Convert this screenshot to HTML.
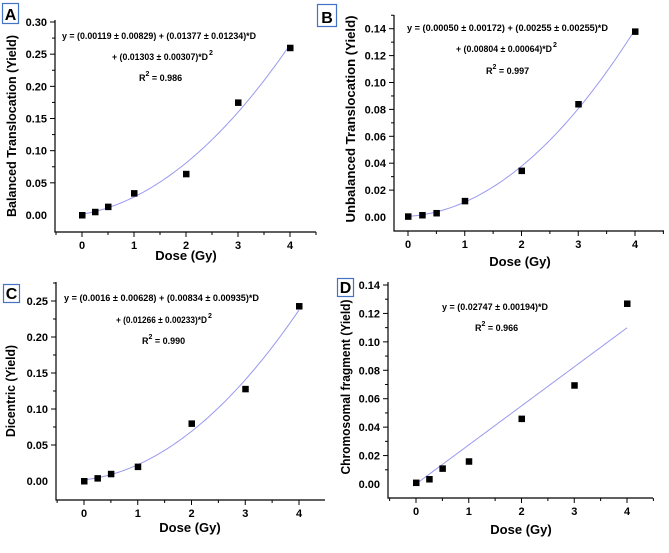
<!DOCTYPE html>
<html><head><meta charset="utf-8"><style>
body{margin:0;background:#fff;width:669px;height:548px;overflow:hidden}
svg{font-family:"Liberation Sans",Arial,sans-serif}
</style></head><body>
<svg id="fig" width="669" height="548"></svg>
<script>
const doses = [0, 0.25, 0.5, 1, 2, 3, 4];
const balancedYield = [0, 0.005, 0.013, 0.034, 0.064, 0.175, 0.26];
const unbalancedYield = [0.0005, 0.0015, 0.003, 0.012, 0.0345, 0.084, 0.138];
const dicentricYield = [0, 0.004, 0.01, 0.02, 0.08, 0.128, 0.243];
const fragmentYield = [0.001, 0.0035, 0.011, 0.016, 0.046, 0.0695, 0.127];
const fitA = [0.00119, 0.01377, 0.01303];
const fitB = [0.0005, 0.00255, 0.00804];
const fitC = [0.0016, 0.00834, 0.01266];
const fitD = [0, 0.02747, 0];
const xTicks = [0, 1, 2, 3, 4];
const yTicksA = [0, 0.05, 0.10, 0.15, 0.20, 0.25, 0.30];
const yTicksB = [0, 0.02, 0.04, 0.06, 0.08, 0.10, 0.12, 0.14];
const yTicksC = [0, 0.05, 0.10, 0.15, 0.20, 0.25];
const yTicksD = [0, 0.02, 0.04, 0.06, 0.08, 0.10, 0.12, 0.14];

const NS = "http://www.w3.org/2000/svg";
const svg = document.getElementById('fig');
function el(tag, attrs, parent, text){
  const e = document.createElementNS(NS, tag);
  for (const k in attrs) e.setAttribute(k, attrs[k]);
  if (text !== undefined) e.textContent = text;
  (parent || svg).appendChild(e);
  return e;
}

const panels = [
 {id:'a', label:'A', box:[2,3,16,20], ys:balancedYield, fit:fitA, yt:yTicksA,
  ax:{l:55,r:316,t:20,b:232, x0:82, x4:290, y0:215, yv:0.30, yp:22},
  title:'Balanced Translocation (Yield)', tx:11, ty:126, tl:182, xl:[186,260],
  eq:[['y = (0.00119 ± 0.00829) + (0.01377 ± 0.01234)*D',62,39,194],['+ (0.01303 ± 0.00307)*D',112,60,96],['R',139,81,0]], r2:'= 0.986', minorY:0.025},
 {id:'b', label:'B', box:[317,4,19,22], ys:unbalancedYield, fit:fitB, yt:yTicksB,
  ax:{l:394,r:664,t:15,b:231, x0:408, x4:635, y0:217, yv:0.14, yp:28.7},
  title:'Unbalanced Translocation (Yield)', tx:350, ty:119, tl:207, xl:[520,266],
  eq:[['y = (0.00050 ± 0.00172) + (0.00255 ± 0.00255)*D',407,31,201],['+ (0.00804 ± 0.00064)*D',456,52,96],['R',486,74,0]], r2:'= 0.997', minorY:0.01},
 {id:'c', label:'C', box:[3,284,16,18], ys:dicentricYield, fit:fitC, yt:yTicksC,
  ax:{l:56,r:325,t:282,b:500, x0:84, x4:299, y0:481, yv:0.25, yp:301},
  title:'Dicentric (Yield)', tx:10, ty:391, tl:92, xl:[190,532],
  eq:[['y = (0.0016 ± 0.00628) + (0.00834 ± 0.00935)*D',64,301,195],['+ (0.01266 ± 0.00233)*D',116,323,91],['R',142,344,0]], r2:'= 0.990', minorY:0.025},
 {id:'d', label:'D', box:[337,278,16,18], ys:fragmentYield, fit:fitD, yt:yTicksD,
  ax:{l:388,r:653,t:282,b:498, x0:416, x4:627, y0:484, yv:0.14, yp:285},
  title:'Chromosomal fragment (Yield)', tx:345, ty:387, tl:175, xl:[521,534],
  eq:[['y = (0.02747 ± 0.00194)*D',442,310,106],['R',475,331,0]], r2:'= 0.966', minorY:0.01}
];

panels.forEach(p => {
  const a = p.ax;
  const sx = v => a.x0 + (a.x4 - a.x0) * v / 4;
  const sy = v => a.y0 - (a.y0 - a.yp) * v / a.yv;
  const g = el('g', {});
  
  
  const axl = el('path', {d:`M${a.l},${a.t}V${a.b}H${a.r}`, fill:'none', stroke:'#000', 'stroke-width':1.2}, g);
  
  
  for (let v = -0.5; v <= 4.5001; v += 0.5) {
    const x = sx(v);
    if (x < a.l - 0.5 || x > a.r + 0.5) continue;
    const major = Math.abs(v - Math.round(v)) < 1e-6;
    el('line', {x1:x, x2:x, y1:a.b, y2:a.b + (major ? 5 : 3), stroke:'#000', 'stroke-width':1}, g);
  }
  xTicks.forEach(v => {
    const t = el('text', {x:sx(v), y:a.b + 17, 'text-anchor':'middle', 'font-size':11, 'font-weight':'bold'}, g, String(v));
    
    
  });
  const ymin = (a.y0 - a.b) / (a.y0 - a.yp) * a.yv;
  for (let v = Math.ceil(-ymin / p.minorY - 1e-6) * p.minorY; sy(v) >= a.t - 0.5; v += p.minorY) {
    const y = sy(v);
    if (y > a.b) continue;
    const major = p.yt.some(t => Math.abs(t - v) < 1e-6);
    el('line', {x1:a.l - (major ? 5 : 3), x2:a.l, y1:y, y2:y, stroke:'#000', 'stroke-width':1}, g);
  }
  p.yt.forEach(v => {
    const t = el('text', {x:a.l - 8, y:sy(v) + 4, 'text-anchor':'end', 'font-size':11, 'font-weight':'bold'}, g, v.toFixed(2));
    
    
  });
  const xt = el('text', {x:p.xl[0], y:p.xl[1], 'text-anchor':'middle', 'font-size':13, 'font-weight':'bold'}, g, 'Dose (Gy)');
  
  
  const yt = el('text', {x:0, y:0, transform:`translate(${p.tx + 5},${p.ty}) rotate(-90)`, 'text-anchor':'middle', 'font-size':13, 'font-weight':'bold', textLength:p.tl, lengthAdjust:'spacingAndGlyphs'}, g, p.title);
  
  
  let d = '';
  for (let i = 0; i <= 80; i++) {
    const v = 4 * i / 80;
    const y = p.fit[0] + p.fit[1] * v + p.fit[2] * v * v;
    d += (i ? 'L' : 'M') + sx(v).toFixed(2) + ',' + sy(y).toFixed(2);
  }
  const fc = el('path', {d, fill:'none', stroke:'#9999ee', 'stroke-width':1}, g);
  
  
  doses.forEach((v, i) => {
    const r = el('rect', {x:sx(v) - 3, y:sy(p.ys[i]) - 3, width:6.5, height:6.5, fill:'#000'}, g);
    
    
  });
  p.eq.forEach(e => {
    if (e[0] === 'R') {
      const t = el('text', {x:e[1], y:e[2], 'font-size':9, 'font-weight':'bold'}, g);
      
      
      t.appendChild(document.createTextNode('R'));
      el('tspan', {dy:-5, 'font-size':7}, t, '2');
      el('tspan', {dy:5}, t, ' ' + p.r2);
    } else {
      const t = el('text', {x:e[1], y:e[2], 'font-size':9, 'font-weight':'bold', textLength:e[3], lengthAdjust:'spacingAndGlyphs'}, g, e[0]);
      
      
      if (e[0].startsWith('+')) {
        const s = el('text', {x:e[1] + e[3] + 1, y:e[2] - 5, 'font-size':7, 'font-weight':'bold'}, g, '2');
        
        
      }
    }
  });
  const lb = el('rect', {x:p.box[0]+0.5, y:p.box[1]+0.5, width:p.box[2], height:p.box[3], fill:'#fff', stroke:'#4472c4', 'stroke-width':1.2}, g);
  
  
  const lt = el('text', {x:p.box[0]+p.box[2]/2+0.5, y:p.box[1]+p.box[3]-3, 'text-anchor':'middle', 'font-size':16, 'font-weight':'bold', fill:'#000'}, g, p.label);
  
  
});
</script>
</body></html>
